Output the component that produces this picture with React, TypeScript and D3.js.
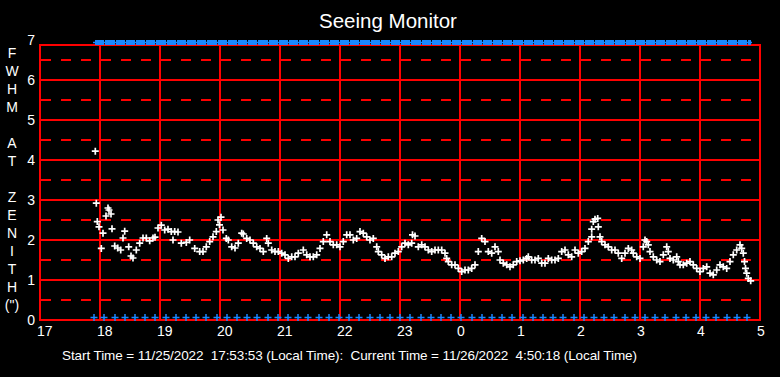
import React from "react";
import * as d3 from "d3";

// minutes after 17:00 local time, and FWHM (arcsec)
const sampleMinutes = [
  55.3, 56.3, 57.3, 59, 61.3, 63, 66, 68, 69, 71, 72, 74.7, 77.7, 80.7, 83, 84.7, 88.7, 91, 93,
  96.3, 99.7, 103, 106.3, 109.7, 113, 115, 118, 121.3, 124.7, 128, 131.3, 133, 134.7, 138, 141.3,
  146.3, 149.7, 154.7, 159.7, 163, 166.3, 169.7, 173, 176.3, 178, 179.5, 181, 183, 186.3, 188.3,
  191.7, 195, 198.3, 201.7, 203.3, 206.7, 210, 213.3, 216.7, 220, 223.3, 226.7, 228.3, 231.7, 235,
  238.3, 241.7, 245, 248.3, 251.7, 255, 258.3, 263.3, 266.7, 270, 273.3, 276.7, 280, 283.3, 286.7,
  290, 293.3, 296.7, 300, 303.3, 306.7, 310, 313.3, 316.7, 320, 323.3, 326.7, 330, 333.3, 336.7,
  338.3, 341.7, 345, 348.3, 351.7, 355, 358.3, 361.7, 365, 368.3, 371.7, 372.5, 375, 378.3, 381.7,
  385, 388.3, 391.7, 395, 398.3, 401.7, 405, 406.7, 408.3, 411.7, 415, 418.3, 421.7, 425, 428.3,
  431.7, 435, 438.3, 441.7, 445, 448.3, 451.7, 455, 458.3, 460, 463.3, 466.7, 470, 473.3, 476.7,
  480, 483.3, 486.7, 488.3, 491.7, 495, 498.3, 501.7, 505, 508.3, 511.7, 515, 518.3, 521.7, 525,
  528.3, 531.7, 535, 538.3, 541.7, 545, 548.3, 551.7, 551.7, 553.3, 555, 557.7, 558.3, 560, 561.7,
  565, 568.3, 571.7, 575, 578.3, 581.7, 585, 588.3, 591.7, 593.3, 596.7, 600, 603.3, 605, 606.7,
  608.3, 610, 613.3, 616.7, 620, 623.3, 626.7, 628.3, 630, 633.3, 636.7, 638.3, 640, 643.3, 646.7,
  650, 653.3, 656.7, 660, 663.3, 666.7, 670, 673.3, 676.7, 680, 683.3, 686.7, 690, 693.3, 696.7,
  700, 701.7, 703.3, 704.5, 705.5, 706.7, 708.3, 710.7,
];
const fwhmValues = [
  4.22, 2.92, 2.46, 2.33, 1.79, 2.17, 2.6, 2.8, 2.75, 2.65, 2.28, 1.85, 1.8, 1.75, 2.05, 2.22, 1.83, 1.6, 1.55,
  1.75, 1.92, 2.05, 2.05, 1.98, 2.05, 2.07, 2.3, 2.37, 2.25, 2.27, 2.21, 2.0, 2.21, 2.2, 1.92,
  1.94, 2.0, 1.79, 1.71, 1.71, 1.83, 1.96, 2.08, 2.21, 2.5, 2.38, 2.57, 2.25, 2.04, 2.0,
  1.83, 1.8, 1.92, 2.17, 2.15, 2.04, 2.0, 1.92, 1.83, 1.79, 1.71, 2.04, 1.92, 1.75, 1.71,
  1.71, 1.67, 1.63, 1.54, 1.58, 1.58, 1.67, 1.75, 1.63, 1.58, 1.58, 1.63, 1.79, 1.96, 2.13,
  1.96, 1.88, 1.88, 1.83, 1.96, 2.13, 2.13, 2.0, 2.04, 2.21, 2.17, 2.08, 2.0, 2.04, 1.83,
  1.71, 1.63, 1.54, 1.58, 1.58, 1.67, 1.71, 1.83, 1.92, 1.88, 1.92, 2.13, 2.1, 1.83, 1.88,
  1.83, 1.75, 1.71, 1.75, 1.75, 1.75, 1.67, 1.54, 1.46, 1.38, 1.38, 1.29, 1.21, 1.25, 1.25,
  1.29, 1.38, 1.71, 2.04, 1.96, 1.71, 1.67, 1.83, 1.71, 1.5, 1.42, 1.38, 1.33, 1.38, 1.46,
  1.48, 1.5, 1.54, 1.58, 1.5, 1.5, 1.54, 1.42, 1.42, 1.54, 1.5, 1.5, 1.54, 1.71, 1.75,
  1.63, 1.58, 1.75, 1.67, 1.71, 1.79, 1.96, 2.08, 2.27, 2.46, 2.52, 2.54, 2.33, 2.08, 1.96,
  1.88, 1.83, 1.75, 1.75, 1.67, 1.54, 1.67, 1.79, 1.75, 1.67, 1.58, 1.54, 1.83, 2.0, 1.96,
  1.88, 1.71, 1.58, 1.5, 1.46, 1.63, 1.83, 1.71, 1.54, 1.5, 1.58, 1.46, 1.38, 1.38, 1.42,
  1.46, 1.38, 1.29, 1.21, 1.29, 1.33, 1.17, 1.13, 1.25, 1.38, 1.33, 1.29, 1.46, 1.63, 1.75,
  1.88, 1.79, 1.67, 1.46, 1.29, 1.17, 1.04, 0.98,
];

// blue status markers (minutes after 17:00)
const statusMinutes = [
  54, 64, 75, 85, 95, 105, 115, 126, 136, 146, 156, 166, 177, 187, 197, 207, 217, 228, 238, 248,
  258, 268, 279, 289, 299, 309, 319, 330, 340, 350, 360, 370, 381, 391, 401, 411, 421, 432, 442,
  452, 462, 472, 483, 493, 503, 513, 523, 534, 544, 554, 564, 574, 585, 595, 605, 615, 625, 636,
  646, 656, 666, 676, 687, 697, 707,
];

const xTickMinutes = [0, 60, 120, 180, 240, 300, 360, 420, 480, 540, 600, 660, 720];
const xTickLabels = ["17", "18", "19", "20", "21", "22", "23", "0", "1", "2", "3", "4", "5"];
const yTicks = [0, 1, 2, 3, 4, 5, 6, 7];
const yHalfTicks = [0.5, 1.5, 2.5, 3.5, 4.5, 5.5, 6.5];
const yAxisLetters = ["F", "W", "H", "M", "", "A", "T", "", "Z", "E", "N", "I", "T", "H", "(\")"];

const TITLE = "Seeing Monitor";
const FOOTER =
  "Start Time = 11/25/2022  17:53:53 (Local Time):  Current Time = 11/26/2022  4:50:18 (Local Time)";

export default function App() {
  const W = 780;
  const H = 377;
  const left = 40, right = 760, boxTop = 45, bottom = 320;
  const x = d3.scaleLinear().domain([0, 720]).range([left, right]);
  const y = d3.scaleLinear().domain([0, 7]).range([bottom, 40]);
  const font = "'Liberation Sans', Arial, sans-serif";
  const red = "#ff0000";
  const blue = "#1a86ff";
  const arm = 3.5;

  return (
    <svg
      width={W}
      height={H}
      style={{ position: "absolute", left: 0, top: 0, background: "#000" }}
      fontFamily={font}
    >
      <rect x={0} y={0} width={W} height={H} fill="#000" />
      <text x={388} y={28} fill="#fff" fontSize={20.5} textAnchor="middle">
        {TITLE}
      </text>

      {/* dashed half-unit lines */}
      {yHalfTicks.map((v) => (
        <line
          key={"h" + v}
          x1={left}
          x2={right}
          y1={y(v)}
          y2={y(v)}
          stroke={red}
          strokeWidth={2}
          strokeDasharray="10 10"
          strokeDashoffset={-1}
          shapeRendering="crispEdges"
        />
      ))}
      {/* solid integer lines */}
      {yTicks
        .filter((v) => v > 0 && v < 7)
        .map((v) => (
          <line
            key={"g" + v}
            x1={left}
            x2={right}
            y1={y(v)}
            y2={y(v)}
            stroke={red}
            strokeWidth={2}
            shapeRendering="crispEdges"
          />
        ))}
      {xTickMinutes.map((m) => (
        <line
          key={"v" + m}
          x1={x(m)}
          x2={x(m)}
          y1={boxTop}
          y2={bottom}
          stroke={red}
          strokeWidth={2}
          shapeRendering="crispEdges"
        />
      ))}
      <rect
        x={left}
        y={boxTop}
        width={right - left}
        height={bottom - boxTop}
        fill="none"
        stroke={red}
        strokeWidth={2}
        shapeRendering="crispEdges"
      />

      {/* tick labels */}
      {yTicks.map((v) => (
        <text key={"yl" + v} x={35} y={y(v) + 5} fill="#fff" fontSize={14} textAnchor="end">
          {v}
        </text>
      ))}
      {xTickMinutes.map((m, i) => (
        <text key={"xl" + m} x={x(m) - 3} y={336} fill="#fff" fontSize={14} textAnchor="start">
          {xTickLabels[i]}
        </text>
      ))}
      {yAxisLetters.map((c, i) => (
        <text key={"al" + i} x={12} y={53 + 18 * i + 5} fill="#fff" fontSize={14} textAnchor="middle">
          {c}
        </text>
      ))}

      {/* top status band */}
      <line
        x1={x(statusMinutes[0]) - 1}
        x2={x(statusMinutes[statusMinutes.length - 1]) + 5}
        y1={y(7) + 2.5}
        y2={y(7) + 2.5}
        stroke={blue}
        strokeWidth={1.5}
      />
      {statusMinutes.map((m, i) => {
        const next = i < statusMinutes.length - 1 ? statusMinutes[i + 1] : m + 4;
        return (
          <rect
            key={"tb" + i}
            x={x(m) + 1}
            y={y(7)}
            width={Math.max(1, x(next) - x(m) - 1)}
            height={5}
            fill={blue}
          />
        );
      })}
      {/* bottom status markers */}
      {statusMinutes.map((m, i) => (
        <path
          key={"bm" + i}
          d={`M${x(m) - arm},${y(0) - 2.5}h${arm * 2}M${x(m)},${y(0) - 2.5 - arm}v${arm * 2}`}
          stroke={blue}
          strokeWidth={1.5}
        />
      ))}

      {/* data markers */}
      {sampleMinutes.map((m, i) => (
        <path
          key={"d" + i}
          d={`M${x(m) - arm},${y(fwhmValues[i])}h${arm * 2}M${x(m)},${y(fwhmValues[i]) - arm}v${arm * 2}`}
          stroke="#fff"
          strokeWidth={1.7}
        />
      ))}

      <text
        x={62}
        y={360}
        fill="#fff"
        fontSize={13.5}
        textLength={575}
        lengthAdjust="spacing"
        style={{ whiteSpace: "pre" }}
      >
        {FOOTER}
      </text>
    </svg>
  );
}
